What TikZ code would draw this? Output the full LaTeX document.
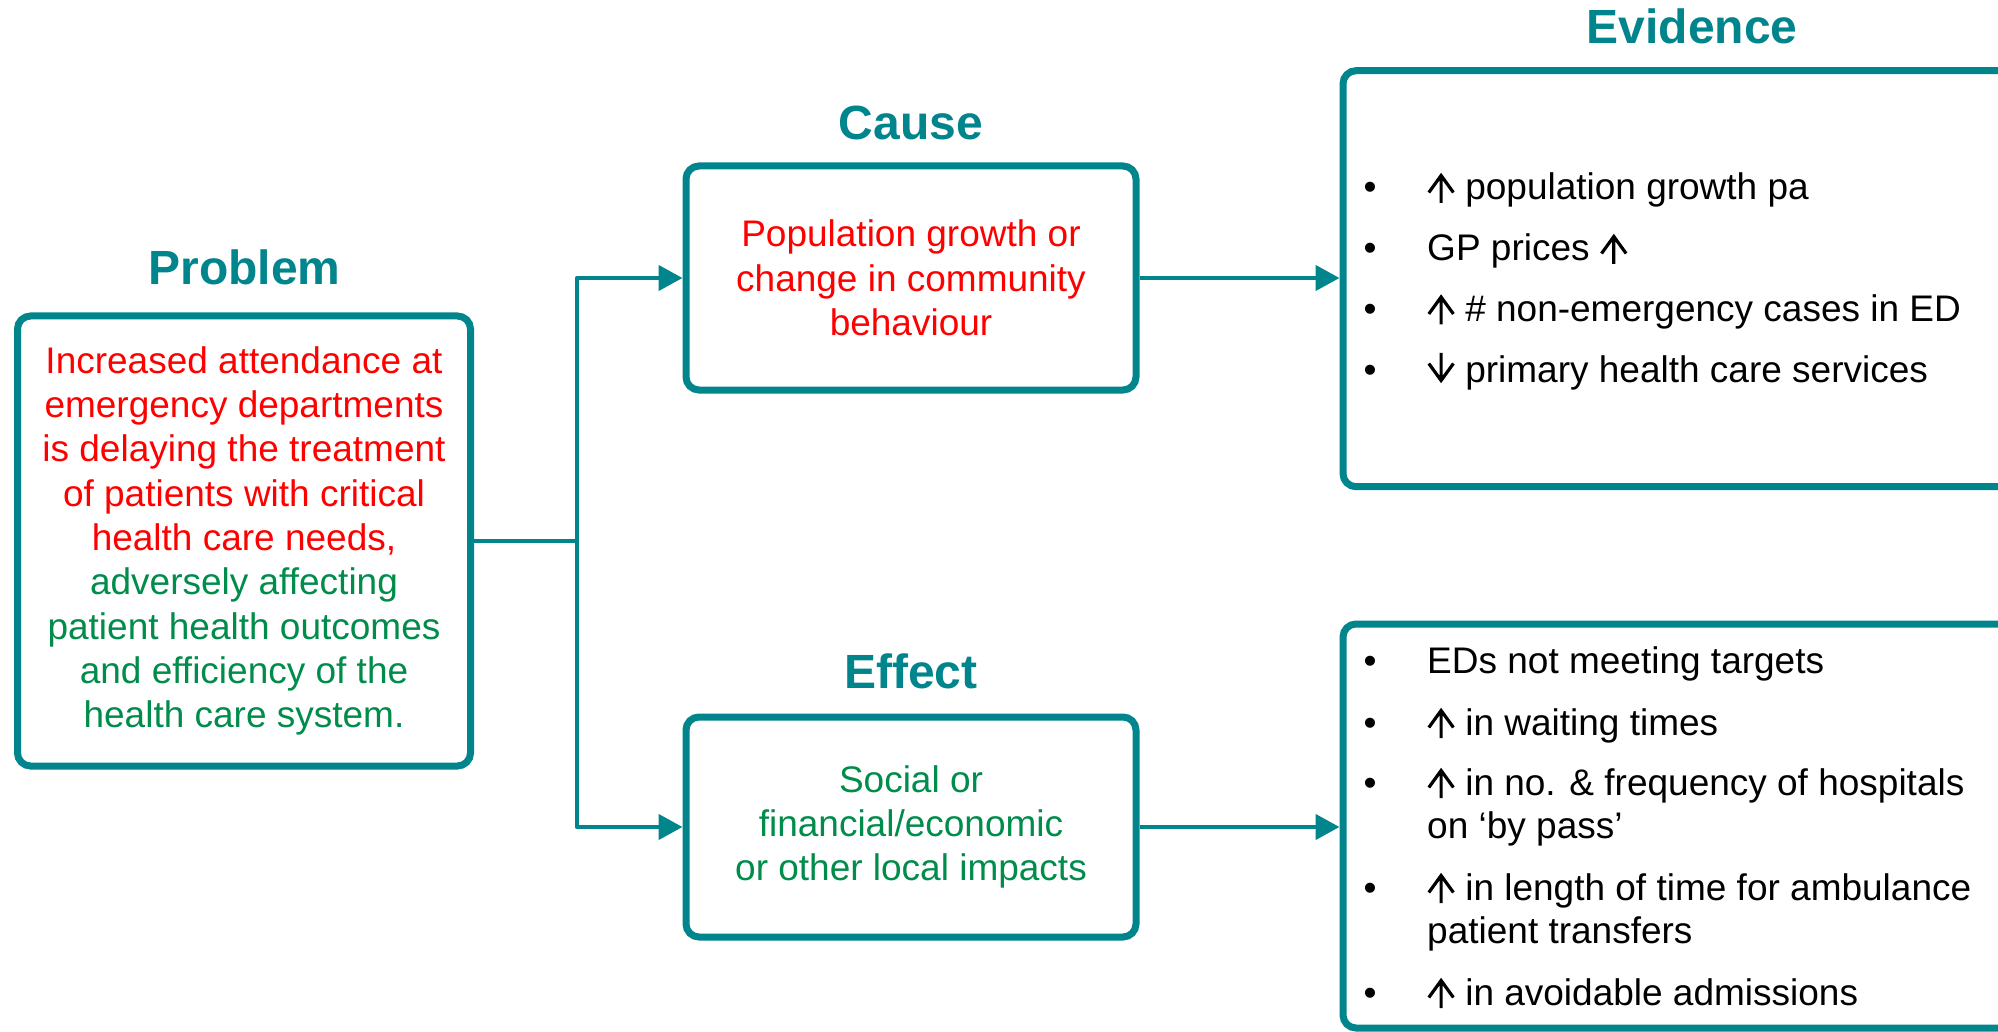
\documentclass[tikz,border=0pt]{standalone}
\usepackage{fontspec}
\setmainfont{Liberation Sans}
\usetikzlibrary{arrows.meta}
\definecolor{tealc}{RGB}{0,133,141}
\definecolor{redc}{RGB}{255,0,0}
\definecolor{greenc}{RGB}{0,140,75}
\newcommand\bodysize{\fontsize{37}{44.3}\selectfont}
\newcommand\headsize{\fontsize{48}{56}\selectfont\bfseries}
% thin open-headed arrows used in the evidence lists
\newcommand\upar{\tikz[baseline=0pt,x=1pt,y=1pt]{%
  \draw[black,line width=3.2pt,line cap=butt,line join=miter]
    (0,-3) -- (0,24.5) (-12.3,7.5) -- (0,24.5) -- (12.3,7.5);}}
\newcommand\downar{\tikz[baseline=0pt,x=1pt,y=1pt]{%
  \draw[black,line width=3.2pt,line cap=butt,line join=miter]
    (0,29) -- (0,1.5) (-12.3,18.5) -- (0,1.5) -- (12.3,18.5);}}

\begin{document}
\begin{tikzpicture}[x=1pt,y=-1pt,
  frame/.style={draw=tealc, line width=7pt, rounded corners=13pt, inner sep=0pt},
  heading/.style={font=\headsize, text=tealc, anchor=base, inner sep=0pt},
  body/.style={font=\bodysize, align=center},
  item/.style={font=\bodysize, anchor=base west, inner sep=0pt},
  bul/.style={font=\bodysize, anchor=base, inner sep=0pt},
  link/.style={draw=tealc, line width=4.5pt, line join=round},
  feed/.style={link, -{Triangle[length=24pt,width=25pt]}},
]
\useasboundingbox (0,0) rectangle (1998,1032);
\fill[white] (0,0) rectangle (1998,1032);

% headings
\node[heading] (hprob) at (244.6,285) {Problem};
\node[heading] (hcause) at (910.7,139.3) {Cause};
\node[heading] (heffect) at (910.7,688) {Effect};
\node[heading] (hevid) at (1692,44) {Evidence};

% problem statement
\node[frame, body, text=redc, minimum width=453pt, minimum height=450pt] (problem) at (244,541)
  {Increased attendance at\\
   emergency departments\\
   is delaying the treatment\\
   of patients with critical\\
   health care needs,\\
   \textcolor{greenc}{adversely affecting}\\
   \textcolor{greenc}{patient health outcomes}\\
   \textcolor{greenc}{and efficiency of the}\\
   \textcolor{greenc}{health care system.}};

% cause and effect
\node[frame, body, text=redc, minimum width=450pt, minimum height=224pt] (cause) at (911,278)
  {Population growth or\\ change in community\\ behaviour};
\node[frame, body, text=greenc, minimum width=450pt, minimum height=220pt] (effect) at (911,827)
  {Social or\\ financial/economic\\ or other local impacts};

% evidence panels (run past the right edge)
\node[frame, minimum width=687pt, minimum height=416pt] (evid1) at (1686.5,278.7) {};
\node[frame, minimum width=687pt, minimum height=404pt] (evid2) at (1686.5,826) {};

% evidence for the cause
\node[bul] (b1) at (1370,200) {•};
\node[item] (t1) at (1427,200) {\upar\ population growth pa};
\node[bul] (b2) at (1370,261) {•};
\node[item] (t2) at (1427,261) {GP prices \upar};
\node[bul] (b3) at (1370,321.5) {•};
\node[item] (t3) at (1427,321.5) {\upar\ \# non-emergency cases in ED};
\node[bul] (b4) at (1370,382) {•};
\node[item] (t4) at (1427,382) {\downar\ primary health care services};

% evidence for the effect
\node[bul] (c1) at (1370,673) {•};
\node[item] (u1) at (1427,673) {EDs not meeting targets};
\node[bul] (c2) at (1370,735) {•};
\node[item] (u2) at (1427,735) {\upar\ in waiting times};
\node[bul] (c3) at (1370,795) {•};
\node[item] (u3) at (1427,795) {\upar\ in no. \& frequency of hospitals};
\node[item] (u3b) at (1427,838) {on ‘by pass’};
\node[bul] (c4) at (1370,900) {•};
\node[item] (u4) at (1427,900) {\upar\ in length of time for ambulance};
\node[item] (u4b) at (1427,943) {patient transfers};
\node[bul] (c5) at (1370,1005) {•};
\node[item] (u5) at (1427,1005) {\upar\ in avoidable admissions};

% connectors
\coordinate (split) at (577,541);
\draw[link] (problem.east) -- (split);
\draw[feed] (split) |- (cause.west);
\draw[feed] (split) |- (effect.west);
\draw[feed] (cause.east) -- (cause.east -| evid1.west);
\draw[feed] (effect.east) -- (effect.east -| evid2.west);
\end{tikzpicture}
\end{document}
